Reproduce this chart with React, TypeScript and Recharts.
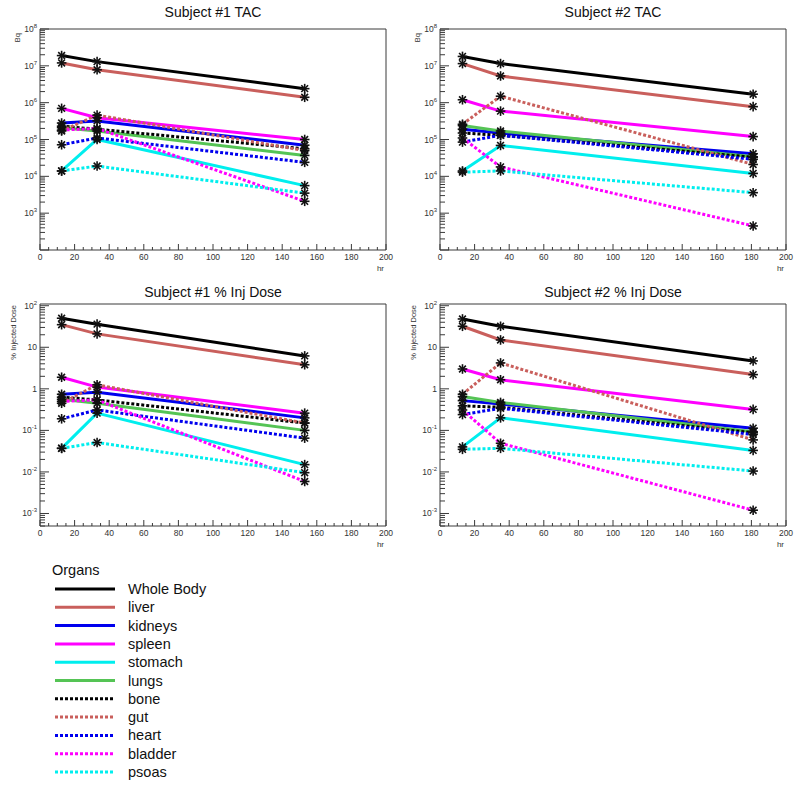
import React from "react";
import { LineChart, Line, XAxis, YAxis, ReferenceArea } from "recharts";

const FONT = '"Liberation Sans", Arial, Helvetica, sans-serif';

const organs = ["Whole Body", "liver", "kidneys", "spleen", "stomach", "lungs", "bone", "gut", "heart", "bladder", "psoas"];
const organColors = ["#000000", "#c95f5c", "#0000ee", "#ff00ff", "#00eeee", "#55c455", "#000000", "#c95f5c", "#0000ee", "#ff00ff", "#00eeee"];
const organDotted = [false, false, false, false, false, false, true, true, true, true, true];

const hoursSubject1 = [12.5, 33, 153];
const hoursSubject2 = [13, 35, 181];

// Bq, rows in the same order as organs
const tacSubject1 = [
  [1.9e7, 1.3e7, 2.4e6],
  [1.2e7, 7.8e6, 1.4e6],
  [2.8e5, 3.2e5, 7e4],
  [7e5, 3.9e5, 1e5],
  [1.4e4, 1e5, 5.6e3],
  [2.1e5, 1.7e5, 3.7e4],
  [2.3e5, 1.9e5, 5.6e4],
  [1.7e5, 4.6e5, 5e4],
  [7.2e4, 1.1e5, 2.4e4],
  [1.8e5, 2e5, 2.1e3],
  [1.4e4, 1.9e4, 3.5e3],
];
const tacSubject2 = [
  [1.8e7, 1.15e7, 1.7e6],
  [1.15e7, 5.3e6, 7.8e5],
  [1.9e5, 1.5e5, 4.1e4],
  [1.2e6, 5.9e5, 1.2e5],
  [1.4e4, 6.9e4, 1.2e4],
  [2.4e5, 1.7e5, 3.4e4],
  [1.5e5, 1.3e5, 3.3e4],
  [2.6e5, 1.5e6, 2.1e4],
  [8.5e4, 1.3e5, 2.9e4],
  [1.1e5, 1.8e4, 4.5e2],
  [1.3e4, 1.4e4, 3.6e3],
];

// % injected dose
const doseSubject1 = [
  [50, 36, 6.2],
  [35, 21, 3.8],
  [0.74, 0.83, 0.2],
  [1.9, 1.1, 0.26],
  [0.037, 0.26, 0.015],
  [0.56, 0.45, 0.1],
  [0.63, 0.54, 0.15],
  [0.45, 1.25, 0.15],
  [0.19, 0.31, 0.065],
  [0.5, 0.54, 0.0059],
  [0.037, 0.051, 0.0096],
];
const doseSubject2 = [
  [48, 32, 4.7],
  [32, 15, 2.2],
  [0.52, 0.43, 0.113],
  [3.0, 1.65, 0.32],
  [0.04, 0.2, 0.033],
  [0.65, 0.47, 0.093],
  [0.39, 0.36, 0.088],
  [0.74, 4.2, 0.059],
  [0.24, 0.34, 0.08],
  [0.31, 0.049, 0.0012],
  [0.035, 0.037, 0.0105],
];

const hourTicks = [0, 20, 40, 60, 80, 100, 120, 140, 160, 180, 200];
const tacTicks = [1e3, 1e4, 1e5, 1e6, 1e7, 1e8];
const tacTickLabels = [["10", "3"], ["10", "4"], ["10", "5"], ["10", "6"], ["10", "7"], ["10", "8"]];
const doseTicks = [1e-3, 1e-2, 1e-1, 1, 10, 100];
const doseTickLabels = [["10", "-3"], ["10", "-2"], ["10", "-1"], ["1", ""], ["10", ""], ["10", "2"]];

const AXIS = "#3a3a3a";

// minor ticks every 5 hr
const hourAllTicks: number[] = [];
for (let h = 0; h <= 200; h += 5) hourAllTicks.push(h);

function logTicks(domain: [number, number]) {
  const out: number[] = [];
  const lo = Math.floor(Math.log10(domain[0]));
  const hi = Math.ceil(Math.log10(domain[1]));
  for (let n = lo; n <= hi; n++) {
    for (let k = 1; k <= 9; k++) {
      const v = parseFloat((k * Math.pow(10, n)).toPrecision(6));
      if (v >= domain[0] && v <= domain[1]) out.push(v);
    }
  }
  return out;
}

const XTick = (props: any) => {
  const { x, y, payload } = props;
  const v = payload.value;
  const major = hourTicks.includes(v);
  return (
    <g>
      <line x1={x} x2={x} y1={y} y2={y - (major ? 6 : 3)} stroke={AXIS} />
      {major && (
        <text x={x} y={y + 10} textAnchor="middle" fontSize={8.5} fill="#333" fontFamily={FONT}>
          {v}
        </text>
      )}
    </g>
  );
};

const YTick = (props: any) => {
  const { x, y, payload, majors, labels } = props;
  const v = payload.value;
  const lg = Math.log10(v);
  const decade = Math.abs(lg - Math.round(lg)) < 1e-6;
  const idx = majors.findIndex((m: number) => Math.abs(Math.log10(m) - lg) < 1e-6);
  const lab = idx >= 0 ? labels[idx] : null;
  return (
    <g>
      <line x1={x} x2={x + (decade ? 9 : 5)} y1={y} y2={y} stroke={AXIS} />
      {lab && (
        <text x={x - 3} y={y + 3} textAnchor="end" fontSize={8.5} fill="#333" fontFamily={FONT}>
          {lab[0]}
          {lab[1] && (
            <tspan dy={-4} fontSize={6}>
              {lab[1]}
            </tspan>
          )}
        </text>
      )}
    </g>
  );
};

const renderAsterisk = (p: any) => {
  const { cx, cy, index, dataKey } = p;
  const key = `${dataKey}-${index}`;
  if (cx == null || cy == null) return <g key={key} />;
  const r = 4.8;
  const d = r * 0.707;
  return (
    <g key={key} stroke="#111" strokeWidth={1.6}>
      <line x1={cx - r} x2={cx + r} y1={cy} y2={cy} />
      <line x1={cx} x2={cx} y1={cy - r} y2={cy + r} />
      <line x1={cx - d} x2={cx + d} y1={cy - d} y2={cy + d} />
      <line x1={cx - d} x2={cx + d} y1={cy + d} y2={cy - d} />
    </g>
  );
};

type PanelProps = {
  title: string;
  hours: number[];
  values: number[][];
  domain: [number, number];
  ticks: number[];
  tickLabels: string[][];
  yLabel: string;
  yLabelTop: number;
  yLabelLeft: number;
  left: number;
  top: number;
  plotTop: number;
  plotBottom: number;
};

function Panel(props: PanelProps) {
  const { title, hours, values, domain, ticks, tickLabels, yLabel, yLabelTop, yLabelLeft, left, top, plotTop, plotBottom } = props;
  const data = hours.map((h, i) => {
    const row: Record<string, number> = { hr: h };
    organs.forEach((o, k) => {
      row[o] = values[k][i];
    });
    return row;
  });
  const yAll = logTicks(domain);

  return (
    <div style={{ position: "absolute", left, top, width: 400, height: 280 }}>
      <LineChart
        width={400}
        height={280}
        data={data}
        margin={{ top: plotTop, right: 14, left: 10, bottom: 280 - plotBottom - 20 }}
      >
        <ReferenceArea x1={0} x2={200} y1={domain[0]} y2={domain[1]} fill="none" stroke={AXIS} strokeWidth={1} ifOverflow="visible" />
        <XAxis
          type="number"
          dataKey="hr"
          domain={[0, 200]}
          ticks={hourAllTicks}
          interval={0}
          tickSize={0}
          tickMargin={0}
          axisLine={false}
          tickLine={false}
          height={20}
          allowDataOverflow
          tick={<XTick />}
        />
        <YAxis
          type="number"
          scale="log"
          domain={domain}
          ticks={yAll}
          interval={0}
          tickSize={0}
          tickMargin={0}
          axisLine={false}
          tickLine={false}
          width={30}
          allowDataOverflow
          tick={<YTick majors={ticks} labels={tickLabels} />}
        />
        {organs.map((o, k) => (
          <Line
            key={o}
            dataKey={o}
            type="linear"
            stroke={organColors[k]}
            strokeWidth={3}
            strokeDasharray={organDotted[k] ? "3 2" : undefined}
            dot={renderAsterisk}
            activeDot={false}
            isAnimationActive={false}
          />
        ))}
      </LineChart>
      <div
        style={{
          position: "absolute",
          left: 40,
          width: 346,
          top: 4,
          textAlign: "center",
          fontSize: 14,
          lineHeight: "16px",
          fontFamily: FONT,
          color: "#111",
        }}
      >
        {title}
      </div>
      <div
        style={{
          position: "absolute",
          right: 16,
          top: plotBottom + 15,
          fontSize: 8,
          lineHeight: 1,
          fontFamily: FONT,
          color: "#333",
        }}
      >
        hr
      </div>
      <div
        style={{
          position: "absolute",
          left: yLabelLeft,
          top: yLabelTop,
          writingMode: "vertical-rl",
          transform: "rotate(180deg)",
          fontSize: 7.5,
          lineHeight: 1,
          fontFamily: FONT,
          color: "#333",
          whiteSpace: "nowrap",
        }}
      >
        {yLabel}
      </div>
    </div>
  );
}

function OrganLegend() {
  const y0 = 29;
  const step = 18.3;
  return (
    <svg style={{ position: "absolute", left: 0, top: 560 }} width={320} height={225}>
      <text x={52} y={15} fontSize={14.5} fontFamily={FONT} fill="#111">
        Organs
      </text>
      {organs.map((o, k) => {
        const y = y0 + k * step;
        return (
          <g key={o}>
            <line
              x1={55}
              x2={115}
              y1={y}
              y2={y}
              stroke={organColors[k]}
              strokeWidth={3}
              strokeDasharray={organDotted[k] ? "3 2" : undefined}
            />
            <text x={128} y={y + 5} fontSize={14.5} fontFamily={FONT} fill="#111">
              {o}
            </text>
          </g>
        );
      })}
    </svg>
  );
}

export default function App() {
  return (
    <div style={{ position: "absolute", left: 0, top: 0, width: 800, height: 788, background: "#fff", fontFamily: FONT }}>
      <Panel
        title="Subject #1 TAC"
        hours={hoursSubject1}
        values={tacSubject1}
        domain={[100, 1e8]}
        ticks={tacTicks}
        tickLabels={tacTickLabels}
        yLabel="Bq"
        yLabelTop={33}
        yLabelLeft={14}
        left={0}
        top={0}
        plotTop={29}
        plotBottom={250}
      />
      <Panel
        title="Subject #2 TAC"
        hours={hoursSubject2}
        values={tacSubject2}
        domain={[100, 1e8]}
        ticks={tacTicks}
        tickLabels={tacTickLabels}
        yLabel="Bq"
        yLabelTop={33}
        yLabelLeft={14}
        left={400}
        top={0}
        plotTop={29}
        plotBottom={250}
      />
      <Panel
        title="Subject #1 % Inj Dose"
        hours={hoursSubject1}
        values={doseSubject1}
        domain={[5e-4, 110]}
        ticks={doseTicks}
        tickLabels={doseTickLabels}
        yLabel="% Injected Dose"
        yLabelTop={25}
        yLabelLeft={10}
        left={0}
        top={280}
        plotTop={24}
        plotBottom={246}
      />
      <Panel
        title="Subject #2 % Inj Dose"
        hours={hoursSubject2}
        values={doseSubject2}
        domain={[5e-4, 110]}
        ticks={doseTicks}
        tickLabels={doseTickLabels}
        yLabel="% Injected Dose"
        yLabelTop={25}
        yLabelLeft={10}
        left={400}
        top={280}
        plotTop={24}
        plotBottom={246}
      />
      <OrganLegend />
    </div>
  );
}
